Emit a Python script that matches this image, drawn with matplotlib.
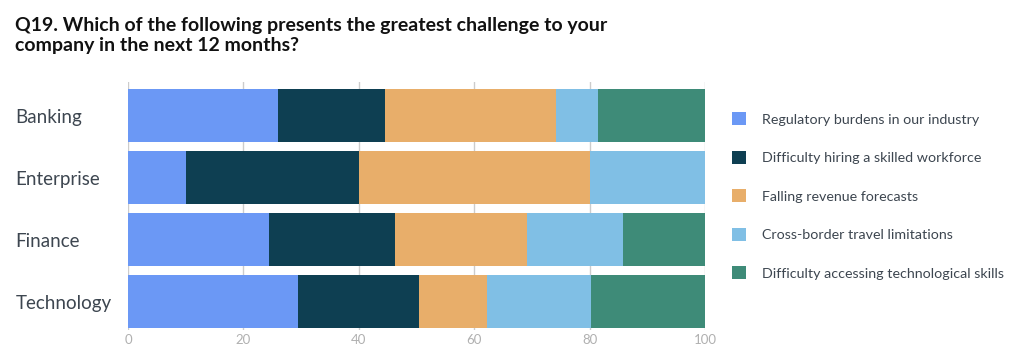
import numpy as np
import matplotlib.pyplot as plt
from matplotlib.patches import Patch

plt.rcParams['font.family'] = ['Lato', 'DejaVu Sans']

# data
categories = ['Banking', 'Enterprise', 'Finance', 'Technology']
series_names = ['Regulatory burdens in our industry',
                'Difficulty hiring a skilled workforce',
                'Falling revenue forecasts',
                'Cross-border travel limitations',
                'Difficulty accessing technological skills']
regulatory = [26.0, 10.0, 24.4, 29.5]
hiring = [18.6, 30.0, 21.8, 21.0]
revenue = [29.6, 40.0, 23.0, 11.7]
travel = [7.3, 20.0, 16.6, 18.0]
tech_skills = [18.5, 0.0, 14.2, 19.8]
x_ticks = [0, 20, 40, 60, 80, 100]

colors = ['#6b98f5', '#0e3f52', '#e8ae6a', '#80bfe5', '#3e8b78']

fig = plt.figure(figsize=(10.24, 3.49), dpi=100)
ax = fig.add_axes([0.125, 0.054, 0.5635, 0.711])

y = np.arange(len(categories))
left = np.zeros(len(categories))
for vals, col in zip([regulatory, hiring, revenue, travel, tech_skills], colors):
    ax.barh(y, vals, left=left, height=0.86, color=col, zorder=2)
    left += np.array(vals)

ax.set_xlim(0, 100)
ax.set_ylim(3.46, -0.54)
ax.set_xticks(x_ticks)
ax.set_xticklabels([str(t) for t in x_ticks])
ax.grid(axis='x', color='#cccccc', linewidth=1, zorder=0)
ax.set_axisbelow(True)
for s in ax.spines.values():
    s.set_visible(False)

ax.set_yticks(y)
ax.set_yticklabels(categories, fontsize=13.5, color='#3d4650')
for lbl in ax.get_yticklabels():
    lbl.set_horizontalalignment('left')
ax.tick_params(axis='y', length=0, pad=81)
ax.tick_params(axis='x', length=0, pad=3, labelsize=9.5, labelcolor='#b0b0b0')

fig.text(0.015, 0.95, 'Q19. Which of the following presents the greatest challenge to your\ncompany in the next 12 months?',
         fontsize=14, fontweight='bold', color='#111111', va='top', ha='left', linespacing=1.2)

handles = [Patch(facecolor=c, edgecolor='none') for c in colors]
leg = fig.legend(handles, series_names, loc='upper left', bbox_to_anchor=(0.702, 0.715),
                 frameon=False, fontsize=10.3, labelspacing=1.76, handlelength=1.0,
                 handleheight=1.0, handletextpad=1.1, labelcolor='#3d4650')

fig.savefig('out.png', dpi=100)
